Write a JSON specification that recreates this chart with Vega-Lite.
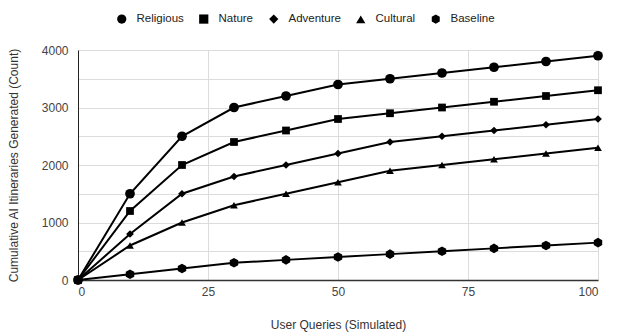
{
  "$schema": "https://vega.github.io/schema/vega-lite/v6.json",
  "width": 520,
  "height": 230,
  "autosize": "none",
  "padding": {"left": 78, "top": 50, "right": 19, "bottom": 54},
  "background": "white",
  "config": {
    "font": "Liberation Sans",
    "view": {"stroke": null},
    "axis": {"labelColor": "#444", "titleColor": "#333", "labelFontSize": 12, "titleFontSize": 12, "titleFontWeight": "normal", "gridColor": "#dcdcdc", "ticks": false}
  },
  "data": {
    "values": [
      {"q": 0, "v": 0, "s": "Religious"}, {"q": 10, "v": 1500, "s": "Religious"}, {"q": 20, "v": 2500, "s": "Religious"}, {"q": 30, "v": 3000, "s": "Religious"}, {"q": 40, "v": 3200, "s": "Religious"}, {"q": 50, "v": 3400, "s": "Religious"}, {"q": 60, "v": 3500, "s": "Religious"}, {"q": 70, "v": 3600, "s": "Religious"}, {"q": 80, "v": 3700, "s": "Religious"}, {"q": 90, "v": 3800, "s": "Religious"}, {"q": 100, "v": 3900, "s": "Religious"},
      {"q": 0, "v": 0, "s": "Nature"}, {"q": 10, "v": 1200, "s": "Nature"}, {"q": 20, "v": 2000, "s": "Nature"}, {"q": 30, "v": 2400, "s": "Nature"}, {"q": 40, "v": 2600, "s": "Nature"}, {"q": 50, "v": 2800, "s": "Nature"}, {"q": 60, "v": 2900, "s": "Nature"}, {"q": 70, "v": 3000, "s": "Nature"}, {"q": 80, "v": 3100, "s": "Nature"}, {"q": 90, "v": 3200, "s": "Nature"}, {"q": 100, "v": 3300, "s": "Nature"},
      {"q": 0, "v": 0, "s": "Adventure"}, {"q": 10, "v": 800, "s": "Adventure"}, {"q": 20, "v": 1500, "s": "Adventure"}, {"q": 30, "v": 1800, "s": "Adventure"}, {"q": 40, "v": 2000, "s": "Adventure"}, {"q": 50, "v": 2200, "s": "Adventure"}, {"q": 60, "v": 2400, "s": "Adventure"}, {"q": 70, "v": 2500, "s": "Adventure"}, {"q": 80, "v": 2600, "s": "Adventure"}, {"q": 90, "v": 2700, "s": "Adventure"}, {"q": 100, "v": 2800, "s": "Adventure"},
      {"q": 0, "v": 0, "s": "Cultural"}, {"q": 10, "v": 600, "s": "Cultural"}, {"q": 20, "v": 1000, "s": "Cultural"}, {"q": 30, "v": 1300, "s": "Cultural"}, {"q": 40, "v": 1500, "s": "Cultural"}, {"q": 50, "v": 1700, "s": "Cultural"}, {"q": 60, "v": 1900, "s": "Cultural"}, {"q": 70, "v": 2000, "s": "Cultural"}, {"q": 80, "v": 2100, "s": "Cultural"}, {"q": 90, "v": 2200, "s": "Cultural"}, {"q": 100, "v": 2300, "s": "Cultural"},
      {"q": 0, "v": 0, "s": "Baseline"}, {"q": 10, "v": 100, "s": "Baseline"}, {"q": 20, "v": 200, "s": "Baseline"}, {"q": 30, "v": 300, "s": "Baseline"}, {"q": 40, "v": 350, "s": "Baseline"}, {"q": 50, "v": 400, "s": "Baseline"}, {"q": 60, "v": 450, "s": "Baseline"}, {"q": 70, "v": 500, "s": "Baseline"}, {"q": 80, "v": 550, "s": "Baseline"}, {"q": 90, "v": 600, "s": "Baseline"}, {"q": 100, "v": 650, "s": "Baseline"}
    ]
  },
  "encoding": {
    "x": {"field": "q", "type": "quantitative", "scale": {"domain": [0, 100], "nice": false},
      "axis": {"title": "User Queries (Simulated)", "values": [0, 25, 50, 75, 100], "labelPadding": 6, "titlePadding": 22, "domainColor": "#333", "domainWidth": 1.5}},
    "y": {"field": "v", "type": "quantitative", "scale": {"domain": [0, 4000], "nice": false},
      "axis": {"title": "Cumulative AI Itineraries Generated (Count)", "values": [0, 500, 1000, 1500, 2000, 2500, 3000, 3500, 4000], "labelExpr": "datum.value % 1000 === 0 ? datum.label : ''", "format": "d", "labelPadding": 10, "titlePadding": 21, "domainColor": "#222", "domainWidth": 1}}
  },
  "layer": [
    {
      "mark": {"type": "line", "color": "black", "strokeWidth": 2},
      "encoding": {"detail": {"field": "s"}, "order": {"field": "q"}}
    },
    {
      "mark": {"type": "point", "filled": true, "color": "black", "opacity": 1},
      "encoding": {
        "shape": {"field": "s", "type": "nominal",
          "scale": {"domain": ["Religious", "Nature", "Adventure", "Cultural", "Baseline"], "range": ["circle", "square", "diamond", "triangle-up", "M0,-1L0.866,-0.5L0.866,0.5L0,1L-0.866,0.5L-0.866,-0.5Z"]},
          "legend": {"title": null, "orient": "none", "direction": "horizontal", "legendX": 38, "legendY": -37, "labelFontSize": 11.5, "labelColor": "#222", "symbolFillColor": "black", "symbolStrokeColor": "black", "symbolSize": 85, "columnPadding": 12, "labelOffset": 9}},
        "size": {"condition": {"test": "datum.s === 'Religious' || datum.s === 'Baseline'", "value": 95}, "value": 60}
      }
    }
  ]
}
